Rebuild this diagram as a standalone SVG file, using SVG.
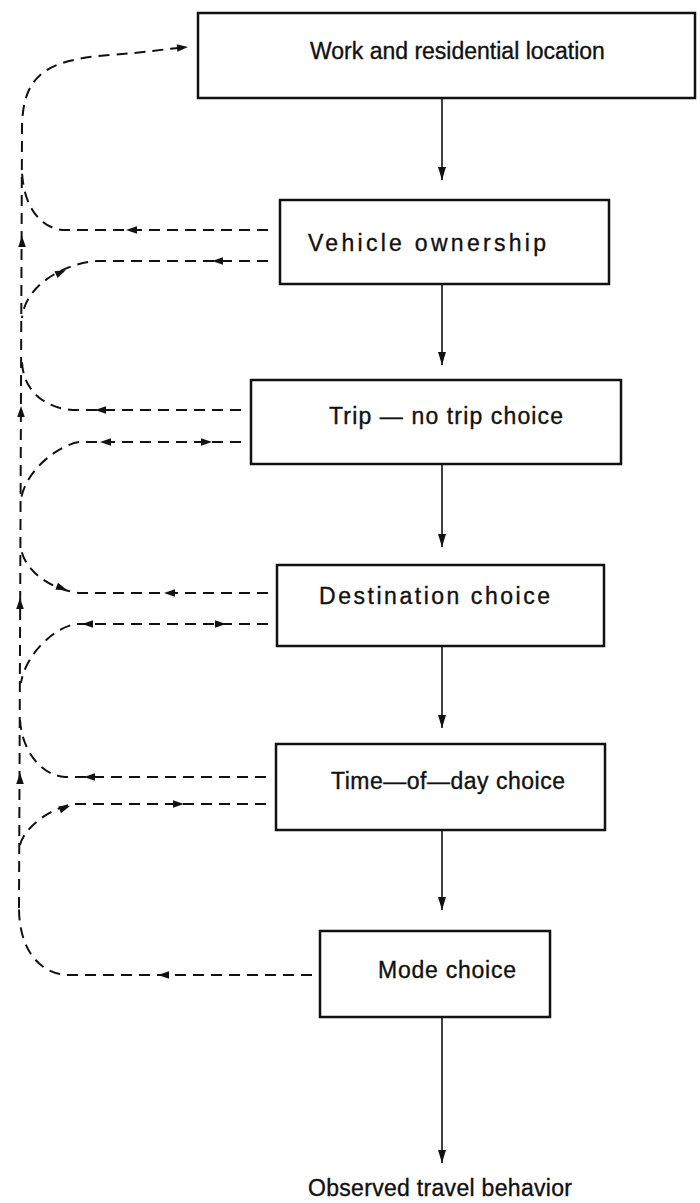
<svg xmlns="http://www.w3.org/2000/svg" xmlns:xlink="http://www.w3.org/1999/xlink" width="700" height="1203" viewBox="0 0 700 1203">
  <style>
    .box { fill: #ffffff; stroke: #111111; stroke-width: 2.5; }
    .lbl { font-family: "Liberation Sans", Arial, sans-serif; font-size: 23px; fill: #111111; stroke: #111111; stroke-width: 0.35; }
    .solid { fill: none; stroke: #111111; stroke-width: 1.6; }
    .dash { fill: none; stroke: #111111; stroke-width: 2; stroke-dasharray: 11 7; }
    .ah { fill: #111111; }
  </style>
  <defs>
    <marker id="arr" markerUnits="userSpaceOnUse" markerWidth="14" markerHeight="10" refX="13" refY="4" orient="auto">
      <path d="M0,0 L13,4 L0,8 Z" fill="#111111"/>
    </marker>
    <path id="ah" d="M0,0 L-11,-3.8 L-11,3.8 Z"/>
  </defs>
  <rect width="700" height="1203" fill="#ffffff"/>

  <g id="connectors">
    <!-- solid flow -->
    <line class="solid" x1="442" y1="99" x2="442" y2="180" marker-end="url(#arr)"/>
    <line class="solid" x1="442" y1="284" x2="442" y2="365" marker-end="url(#arr)"/>
    <line class="solid" x1="442" y1="464" x2="442" y2="547" marker-end="url(#arr)"/>
    <line class="solid" x1="442" y1="646" x2="442" y2="728" marker-end="url(#arr)"/>
    <line class="solid" x1="442" y1="830" x2="442" y2="910" marker-end="url(#arr)"/>
    <line class="solid" x1="442" y1="1017" x2="442" y2="1163" marker-end="url(#arr)"/>

    <!-- dashed feedback spine -->
    <path class="dash" d="M19,908 L22,130 C22,75 45,60 110,55 C140,53 165,49 188,47"/>
    <path class="dash" d="M312,975 L70,975 C40,975 19,950 19,908"/>
    <!-- vehicle ownership -->
    <path class="dash" d="M268,230 L65,230 C45,230 24,212 22,172"/>
    <path class="dash" d="M268,261 L97,261 C65,263 25,285 22,318"/>
    <!-- trip / no trip -->
    <path class="dash" d="M241,410 L77,410 C45,410 22,390 22,360"/>
    <path class="dash" d="M241,442 L80,442 C60,444 25,470 21,500"/>
    <!-- destination -->
    <path class="dash" d="M268,593 L80,593 C50,590 24,570 21,548"/>
    <path class="dash" d="M268,624 L77,624 C55,626 25,655 21,683"/>
    <!-- time of day -->
    <path class="dash" d="M266,777 L65,777 C40,775 22,750 20,720"/>
    <path class="dash" d="M266,804 L75,804 C55,806 25,825 20,845"/>

    <!-- dashed arrowheads -->
    <use xlink:href="#ah" class="ah" transform="translate(188,47) rotate(-5)"/>
    <use xlink:href="#ah" class="ah" transform="translate(126,230) rotate(180)"/>
    <use xlink:href="#ah" class="ah" transform="translate(66,270) rotate(-25)"/>
    <use xlink:href="#ah" class="ah" transform="translate(212,261) rotate(180)"/>
    <use xlink:href="#ah" class="ah" transform="translate(95,410) rotate(180)"/>
    <use xlink:href="#ah" class="ah" transform="translate(100,442) rotate(180)"/>
    <use xlink:href="#ah" class="ah" transform="translate(212,442)"/>
    <use xlink:href="#ah" class="ah" transform="translate(67,590) rotate(20)"/>
    <use xlink:href="#ah" class="ah" transform="translate(164,593) rotate(180)"/>
    <use xlink:href="#ah" class="ah" transform="translate(82,624) rotate(180)"/>
    <use xlink:href="#ah" class="ah" transform="translate(226,624)"/>
    <use xlink:href="#ah" class="ah" transform="translate(84,777) rotate(180)"/>
    <use xlink:href="#ah" class="ah" transform="translate(70,806) rotate(-20)"/>
    <use xlink:href="#ah" class="ah" transform="translate(184,804)"/>
    <use xlink:href="#ah" class="ah" transform="translate(158,975) rotate(180)"/>
    <!-- spine up arrows -->
    <use xlink:href="#ah" class="ah" transform="translate(22,236) rotate(-90)"/>
    <use xlink:href="#ah" class="ah" transform="translate(21,406) rotate(-90)"/>
    <use xlink:href="#ah" class="ah" transform="translate(20,598) rotate(-90)"/>
    <use xlink:href="#ah" class="ah" transform="translate(20,773) rotate(-90)"/>
  </g>

  <g id="node-work">
    <rect class="box" x="198" y="13" width="497" height="85"/>
    <text class="lbl" x="310" y="59">Work and residential location</text>
  </g>
  <g id="node-vehicle">
    <rect class="box" x="280" y="200" width="329" height="84"/>
    <text class="lbl" x="308" y="251" textLength="238" lengthAdjust="spacing">Vehicle ownership</text>
  </g>
  <g id="node-trip">
    <rect class="box" x="251" y="380" width="370" height="84"/>
    <text class="lbl" x="329" y="424" textLength="234" lengthAdjust="spacing">Trip — no trip choice</text>
  </g>
  <g id="node-destination">
    <rect class="box" x="277" y="565" width="327" height="81"/>
    <text class="lbl" x="319" y="604" textLength="231" lengthAdjust="spacing">Destination choice</text>
  </g>
  <g id="node-time">
    <rect class="box" x="276" y="744" width="329" height="86"/>
    <text class="lbl" x="331" y="789" textLength="234" lengthAdjust="spacing">Time—of—day choice</text>
  </g>
  <g id="node-mode">
    <rect class="box" x="320" y="931" width="230" height="86"/>
    <text class="lbl" x="378" y="978" textLength="138" lengthAdjust="spacing">Mode choice</text>
  </g>
  <g id="node-observed">
    <text class="lbl" x="308" y="1196" textLength="264" lengthAdjust="spacing">Observed travel behavior</text>
  </g>
</svg>
